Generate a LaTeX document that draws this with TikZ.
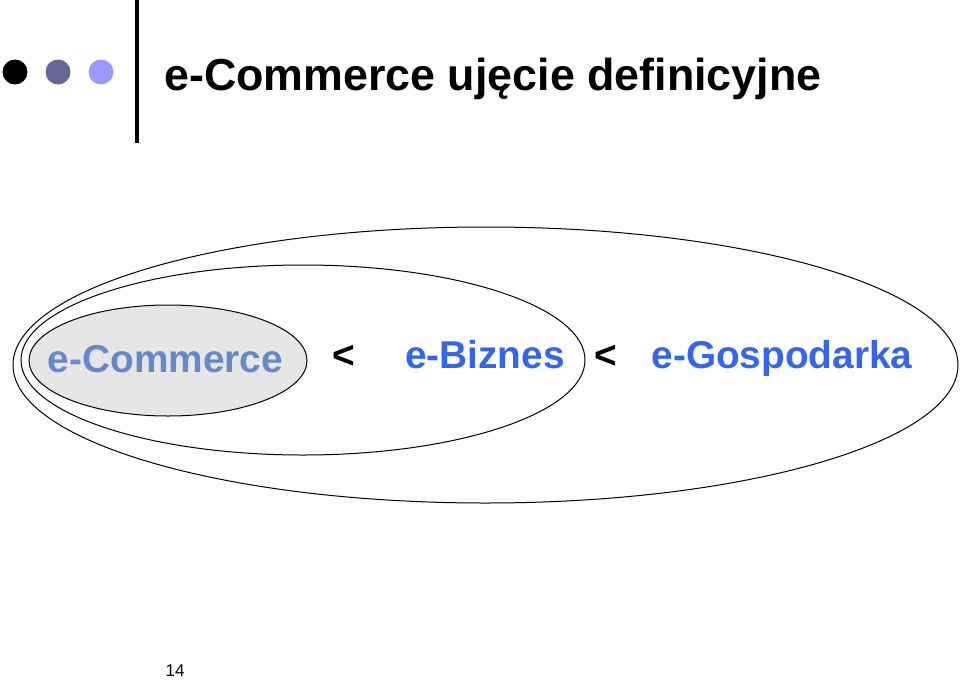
\documentclass[tikz,border=0pt]{standalone}
\usepackage{fontspec}
\setmainfont{Liberation Sans}
\usetikzlibrary{shapes.geometric}
\definecolor{dotdark}{RGB}{102,102,153}
\definecolor{dotlight}{RGB}{153,153,255}
\definecolor{ecomblue}{RGB}{102,136,204}
\definecolor{royal}{RGB}{51,102,238}
\definecolor{innergray}{RGB}{230,230,230}
\begin{document}
\begin{tikzpicture}[x=1pt,y=-1pt,
  set/.style={ellipse,draw=black,line width=1pt,inner sep=0pt},
  big/.style={font=\fontsize{38.8}{40}\selectfont\bfseries,anchor=base,inner sep=0pt},
  dot/.style={circle,inner sep=0pt,minimum size=25pt}]
\useasboundingbox (0,0) rectangle (960,680);
% header
\node[dot,fill=black] (d1) at (15,72) {};
\node[dot,fill=dotdark] (d2) at (58,72) {};
\node[dot,fill=dotlight] (d3) at (101,72) {};
\draw[line width=4pt] (137,0) -- (137,143);
\node[anchor=base west,inner sep=0pt,font=\fontsize{44.8}{46}\selectfont\bfseries] (title) at (164,90) {e-Commerce ujęcie definicyjne};
% sets
\node[set,minimum width=945pt,minimum height=276pt] (gosp) at (485.5,365) {};
\node[set,minimum width=564pt,minimum height=190pt] (biz) at (303,360) {};
\node[set,fill=innergray,minimum width=278pt,minimum height=111pt] (ecom) at (168,360.5) {};
% labels
\node[big,text=ecomblue] (tcom) at (165.5,372) {e-Commerce};
\node[big] (lt1) at (344,368) {<};
\node[big,text=royal] (tbiz) at (485,368) {e-Biznes};
\node[big] (lt2) at (606,368) {<};
\node[big,text=royal] (tgosp) at (782,368) {e-Gospodarka};
% page number
\node[anchor=base,inner sep=0pt,font=\fontsize{17}{18}\selectfont] (pg) at (175,676) {14};
\end{tikzpicture}
\end{document}
